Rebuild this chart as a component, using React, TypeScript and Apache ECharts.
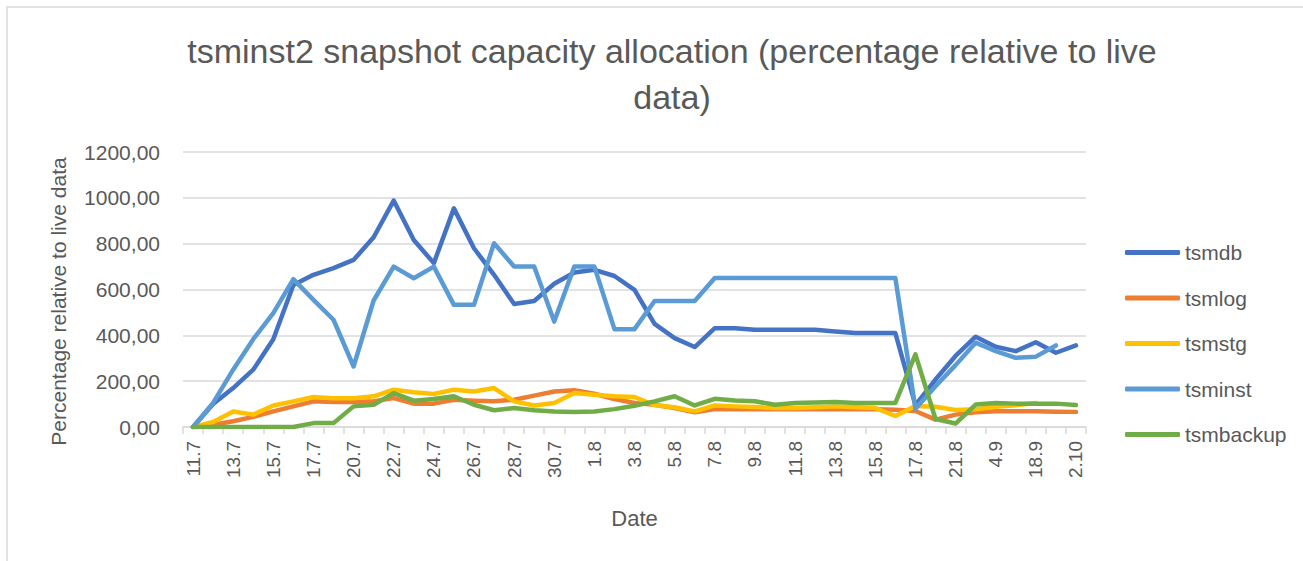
import React, { useEffect, useRef } from 'react';
import * as echarts from 'echarts';

const categories = [
  '11.7', '12.7', '13.7', '14.7', '15.7', '16.7', '17.7', '18.7', '20.7', '21.7',
  '22.7', '23.7', '24.7', '25.7', '26.7', '27.7', '28.7', '29.7', '30.7', '31.7',
  '1.8', '2.8', '3.8', '4.8', '5.8', '6.8', '7.8', '8.8', '9.8', '10.8',
  '11.8', '12.8', '13.8', '14.8', '15.8', '16.8', '17.8', '19.8', '21.8', '28.8',
  '4.9', '11.9', '18.9', '25.9', '2.10',
];

const tsmdb = [
  0, 100, 170, 250, 383, 620, 664, 693, 729, 828,
  988, 816, 715, 954, 780, 664, 537, 550, 625, 674,
  686, 659, 598, 450, 388, 349, 431, 431, 424, 424,
  424, 424, 417, 410, 410, 410, 95, 207, 310, 394,
  350, 331, 370, 324, 356,
];
const tsmlog = [
  0, 10, 25, 44, 68, 90, 112, 109, 109, 112,
  126, 102, 102, 119, 115, 112, 119, 137, 155, 160,
  145, 122, 105, 97, 83, 64, 78, 78, 78, 78,
  78, 78, 78, 78, 78, 75, 70, 32, 54, 64,
  69, 69, 69, 67, 66,
];
const tsmstg = [
  0, 22, 68, 54, 94, 112, 131, 125, 125, 134,
  163, 152, 144, 163, 155, 170, 112, 94, 105, 148,
  141, 134, 131, 95, 86, 68, 94, 90, 87, 83,
  83, 86, 90, 86, 83, 48, 92, 88, 74, 77,
  88, 95, 105, null, null,
];
const tsminst = [
  0, 105, 250, 383, 497, 645, 555, 468, 264, 552,
  700, 649, 700, 533, 533, 802, 700, 700, 460, 700,
  700, 427, 427, 550, 550, 550, 650, 650, 650, 650,
  650, 650, 650, 650, 650, 650, 80, 178, 270, 368,
  331, 302, 307, 356, null,
];
const tsmbackup = [
  0, 0, 0, 0, 0, 0, 17, 17, 90, 97,
  148, 115, 122, 134, 97, 73, 83, 73, 68, 65,
  68, 78, 93, 112, 134, 94, 123, 116, 112, 97,
  105, 107, 109, 105, 105, 105, 317, 35, 15, 98,
  105, 102, 102, 102, 96,
];

const seriesNames = ['tsmdb', 'tsmlog', 'tsmstg', 'tsminst', 'tsmbackup'];
const seriesData = [tsmdb, tsmlog, tsmstg, tsminst, tsmbackup];
const seriesColors = ['#4472C4', '#ED7D31', '#FFC000', '#5B9BD5', '#70AD47'];

const FONT = "'Liberation Sans', Arial, sans-serif";
const TEXT = '#595959';
const GRIDC = '#d9d9d9';

export default function App() {
  const ref = useRef<HTMLDivElement>(null);
  useEffect(() => {
    document.body.style.margin = '0';
    const chart = echarts.init(ref.current!, null, { renderer: 'svg' });
    chart.setOption({
      animation: false,
      backgroundColor: '#ffffff',
      textStyle: { fontFamily: FONT },
      title: {
        text: 'tsminst2 snapshot capacity allocation (percentage relative to live\ndata)',
        left: 667,
        top: 23,
        textAlign: 'center',
        textStyle: { fontFamily: FONT, fontSize: 34, fontWeight: 'normal', color: TEXT, lineHeight: 46 },
      },
      graphic: [
        {
          type: 'rect',
          shape: { x: 7, y: 7, width: 1400, height: 700 },
          style: { fill: 'none', stroke: GRIDC, lineWidth: 1.5 },
          silent: true,
        },
      ],
      legend: {
        orient: 'vertical',
        left: 1125,
        top: 242,
        padding: 0,
        itemWidth: 55,
        itemHeight: 5,
        itemGap: 24.5,
        icon: 'roundRect',
        textStyle: { fontFamily: FONT, fontSize: 21, color: TEXT, lineHeight: 21 },
        data: seriesNames,
      },
      grid: { left: 183, right: 217, top: 152, bottom: 134, containLabel: false },
      xAxis: {
        type: 'category',
        data: categories,
        boundaryGap: true,
        name: 'Date',
        nameLocation: 'middle',
        nameGap: 80,
        nameTextStyle: { fontFamily: FONT, fontSize: 22, color: TEXT },
        axisLine: { show: true, lineStyle: { color: GRIDC, width: 1.5 } },
        axisTick: { show: true, interval: 0, length: 7, lineStyle: { color: GRIDC, width: 1.5 } },
        axisLabel: { interval: 1, rotate: 90, margin: 14, fontSize: 19, color: TEXT, fontFamily: FONT },
      },
      yAxis: {
        type: 'value',
        min: 0,
        max: 1200,
        interval: 200,
        name: 'Percentage relative to live data',
        nameLocation: 'middle',
        nameGap: 114,
        nameTextStyle: { fontFamily: FONT, fontSize: 21, color: TEXT, padding: [0, 24, 0, 0] },
        axisLine: { show: false },
        axisTick: { show: false },
        axisLabel: {
          margin: 23,
          fontSize: 21,
          color: TEXT,
          fontFamily: FONT,
          formatter: (v: number) => v.toFixed(2).replace('.', ','),
        },
        splitLine: { show: true, lineStyle: { color: GRIDC, width: 1.5 } },
      },
      series: seriesNames.map((name, i) => ({
        name,
        type: 'line',
        data: seriesData[i],
        symbol: 'none',
        connectNulls: false,
        color: seriesColors[i],
        lineStyle: { width: 4.5, color: seriesColors[i], cap: 'round', join: 'round' },
      })),
    });
    return () => chart.dispose();
  }, []);
  return <div ref={ref} style={{ width: 1303, height: 561 }} />;
}
